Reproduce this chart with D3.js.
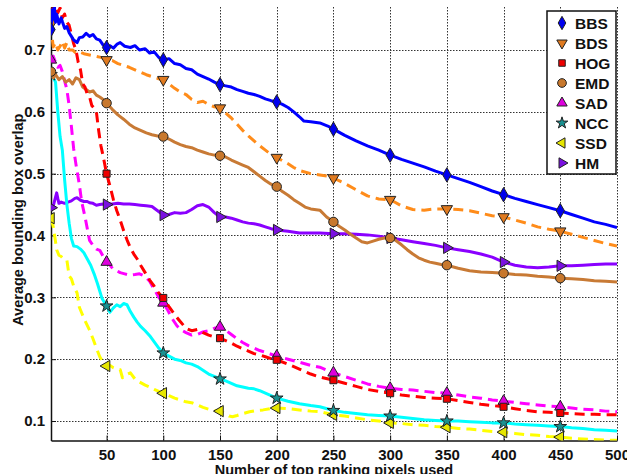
<!DOCTYPE html>
<html>
<head>
<meta charset="utf-8">
<script src="https://cdn.jsdelivr.net/npm/d3@7"></script>
<style>
  html, body { margin: 0; padding: 0; background: #fff; }
  svg { display: block; font-family: "Liberation Sans", Arial, Helvetica, sans-serif; font-weight: bold; }
</style>
</head>
<body>
<div id="chart"></div>
<script>
// --- data ---
const xTicks = [50, 100, 150, 200, 250, 300, 350, 400, 450, 500];
const yTicks = [0.1, 0.2, 0.3, 0.4, 0.5, 0.6, 0.7];
const markerX = [1, 50, 100, 150, 200, 250, 300, 350, 400, 450];

const bbs = [[1,0.733],[2,0.765],[3,0.75],[4,0.77],[5,0.745],[6,0.758],[8,0.742],[10,0.752],[11,0.746],[13,0.735],[15,0.738],[17,0.728],[19,0.722],[21,0.716],[24,0.712],[26,0.72],[29,0.721],[32,0.727],[35,0.722],[38,0.725],[41,0.718],[44,0.716],[47,0.708],[50,0.704],[53,0.707],[56,0.703],[59,0.709],[62,0.712],[66,0.706],[71,0.704],[75,0.707],[79,0.70],[84,0.702],[88,0.695],[92,0.697],[96,0.688],[100,0.684],[105,0.686],[110,0.678],[115,0.676],[120,0.67],[125,0.668],[130,0.661],[135,0.657],[140,0.653],[145,0.648],[150,0.644],[155,0.642],[160,0.64],[165,0.636],[170,0.633],[175,0.63],[180,0.628],[185,0.625],[190,0.621],[195,0.618],[200,0.616],[205,0.612],[210,0.607],[215,0.60],[220,0.592],[224,0.585],[230,0.584],[238,0.582],[245,0.577],[250,0.572],[260,0.562],[270,0.553],[280,0.545],[290,0.538],[300,0.53],[310,0.523],[320,0.517],[330,0.511],[340,0.504],[350,0.498],[360,0.492],[370,0.486],[380,0.479],[390,0.472],[400,0.466],[410,0.46],[420,0.455],[430,0.45],[440,0.445],[450,0.44],[460,0.434],[470,0.428],[480,0.422],[490,0.418],[500,0.413]];

const bds = [[1,0.742],[2,0.72],[3,0.705],[5,0.712],[7,0.70],[9,0.706],[11,0.714],[13,0.703],[15,0.712],[17,0.70],[20,0.70],[23,0.695],[26,0.697],[30,0.694],[35,0.692],[40,0.69],[45,0.688],[50,0.684],[55,0.683],[60,0.678],[65,0.675],[70,0.672],[75,0.668],[80,0.664],[85,0.66],[90,0.657],[95,0.654],[100,0.652],[105,0.645],[110,0.638],[115,0.632],[120,0.628],[125,0.62],[130,0.615],[135,0.617],[140,0.612],[145,0.608],[150,0.606],[155,0.598],[160,0.59],[165,0.58],[170,0.57],[175,0.561],[180,0.553],[185,0.545],[190,0.538],[195,0.531],[200,0.526],[205,0.521],[210,0.516],[215,0.51],[220,0.505],[230,0.5],[238,0.498],[245,0.496],[250,0.493],[260,0.484],[270,0.474],[280,0.464],[290,0.459],[300,0.458],[310,0.448],[320,0.442],[330,0.441],[340,0.443],[350,0.443],[360,0.442],[370,0.44],[380,0.436],[390,0.432],[400,0.43],[410,0.425],[420,0.42],[430,0.414],[440,0.41],[450,0.407],[460,0.402],[470,0.397],[480,0.392],[490,0.387],[500,0.383]];

const hog = [[1,0.775],[3,0.765],[5,0.772],[7,0.76],[9,0.768],[11,0.752],[13,0.758],[15,0.745],[17,0.74],[19,0.725],[21,0.71],[23,0.70],[25,0.68],[27,0.668],[29,0.645],[31,0.64],[33,0.628],[35,0.624],[37,0.61],[39,0.606],[41,0.6],[43,0.57],[45,0.545],[47,0.528],[50,0.50],[53,0.48],[56,0.458],[59,0.44],[62,0.425],[65,0.408],[68,0.393],[71,0.38],[74,0.37],[77,0.362],[80,0.352],[84,0.34],[88,0.328],[92,0.318],[96,0.307],[100,0.299],[105,0.285],[110,0.272],[114,0.263],[120,0.25],[125,0.246],[130,0.248],[135,0.243],[140,0.239],[145,0.236],[150,0.234],[155,0.23],[160,0.226],[165,0.221],[170,0.217],[175,0.213],[180,0.209],[185,0.207],[190,0.204],[195,0.201],[200,0.199],[210,0.192],[220,0.184],[230,0.176],[238,0.171],[250,0.166],[260,0.161],[270,0.156],[280,0.151],[290,0.148],[300,0.145],[310,0.142],[320,0.14],[330,0.138],[340,0.137],[350,0.136],[360,0.133],[370,0.13],[380,0.127],[390,0.125],[400,0.123],[410,0.12],[420,0.117],[430,0.115],[440,0.114],[450,0.113],[460,0.112],[470,0.111],[480,0.111],[490,0.11],[500,0.11]];

const emd = [[1,0.665],[3,0.655],[5,0.66],[8,0.652],[11,0.657],[14,0.648],[17,0.652],[20,0.645],[23,0.655],[26,0.652],[29,0.64],[32,0.636],[35,0.632],[38,0.634],[41,0.627],[44,0.624],[47,0.62],[50,0.614],[55,0.604],[60,0.595],[65,0.588],[70,0.58],[75,0.574],[80,0.57],[85,0.566],[90,0.563],[95,0.561],[100,0.56],[105,0.556],[110,0.551],[115,0.547],[120,0.544],[125,0.542],[130,0.538],[135,0.535],[140,0.532],[145,0.53],[150,0.529],[155,0.527],[160,0.522],[165,0.518],[170,0.514],[175,0.51],[180,0.503],[185,0.496],[190,0.489],[195,0.483],[200,0.479],[205,0.471],[210,0.465],[215,0.458],[220,0.452],[225,0.446],[230,0.443],[238,0.441],[244,0.43],[250,0.422],[255,0.415],[260,0.409],[265,0.402],[270,0.396],[275,0.39],[280,0.388],[285,0.391],[290,0.394],[295,0.396],[300,0.396],[305,0.392],[310,0.385],[315,0.377],[320,0.37],[325,0.364],[330,0.36],[335,0.357],[340,0.355],[345,0.353],[350,0.352],[360,0.347],[370,0.343],[380,0.341],[390,0.34],[400,0.339],[410,0.337],[420,0.336],[430,0.334],[440,0.333],[450,0.331],[460,0.33],[470,0.329],[480,0.327],[490,0.326],[500,0.325]];

const sad = [[1,0.684],[3,0.69],[5,0.68],[7,0.672],[9,0.675],[11,0.665],[13,0.65],[15,0.636],[17,0.61],[19,0.576],[21,0.54],[23,0.515],[26,0.482],[28,0.455],[31,0.43],[35,0.392],[38,0.384],[41,0.378],[44,0.376],[47,0.366],[50,0.357],[53,0.352],[56,0.345],[59,0.343],[62,0.34],[66,0.338],[70,0.336],[75,0.337],[79,0.338],[84,0.334],[88,0.326],[92,0.313],[96,0.3],[100,0.291],[104,0.279],[108,0.265],[112,0.254],[116,0.247],[120,0.243],[125,0.239],[130,0.24],[135,0.244],[140,0.246],[145,0.25],[150,0.252],[155,0.247],[160,0.24],[165,0.233],[170,0.227],[175,0.222],[180,0.218],[185,0.214],[190,0.211],[195,0.208],[200,0.205],[210,0.2],[220,0.195],[230,0.19],[238,0.187],[250,0.178],[260,0.172],[270,0.166],[280,0.16],[290,0.156],[300,0.153],[310,0.151],[320,0.15],[330,0.148],[340,0.146],[350,0.145],[360,0.142],[370,0.139],[380,0.137],[390,0.134],[400,0.132],[410,0.13],[420,0.128],[430,0.126],[440,0.124],[450,0.123],[460,0.121],[470,0.119],[480,0.118],[490,0.116],[500,0.115]];

const ncc = [[1,0.66],[3,0.655],[5,0.648],[7,0.6],[9,0.56],[11,0.538],[13,0.49],[15,0.45],[17,0.42],[19,0.395],[21,0.383],[24,0.382],[27,0.378],[30,0.372],[33,0.362],[36,0.352],[39,0.338],[42,0.322],[46,0.298],[50,0.286],[53,0.276],[56,0.283],[59,0.288],[62,0.285],[65,0.29],[68,0.288],[71,0.277],[74,0.268],[77,0.26],[80,0.253],[84,0.246],[88,0.238],[92,0.228],[96,0.218],[100,0.21],[105,0.205],[110,0.2],[115,0.198],[120,0.194],[125,0.192],[130,0.188],[135,0.182],[140,0.176],[145,0.172],[150,0.168],[155,0.165],[160,0.161],[165,0.157],[170,0.155],[175,0.153],[180,0.152],[185,0.149],[190,0.145],[195,0.141],[200,0.137],[210,0.132],[220,0.128],[230,0.125],[238,0.123],[250,0.117],[260,0.114],[270,0.112],[280,0.11],[290,0.109],[300,0.108],[310,0.106],[320,0.104],[330,0.102],[340,0.101],[350,0.1],[360,0.1],[370,0.099],[380,0.098],[390,0.097],[400,0.097],[410,0.095],[420,0.094],[430,0.093],[440,0.092],[450,0.091],[460,0.089],[470,0.088],[480,0.086],[490,0.085],[500,0.084]];

const ssd = [[1,0.428],[3,0.414],[5,0.39],[6,0.377],[8,0.368],[10,0.366],[12,0.362],[15,0.36],[17,0.335],[19,0.33],[21,0.318],[24,0.307],[26,0.284],[28,0.275],[31,0.262],[35,0.247],[38,0.233],[41,0.218],[44,0.204],[47,0.195],[50,0.189],[53,0.19],[56,0.186],[59,0.184],[62,0.183],[64,0.17],[67,0.175],[71,0.178],[75,0.168],[79,0.163],[84,0.158],[88,0.155],[92,0.151],[96,0.148],[100,0.145],[105,0.141],[110,0.137],[115,0.134],[120,0.131],[126,0.129],[130,0.126],[135,0.122],[140,0.119],[145,0.117],[150,0.116],[155,0.112],[158,0.108],[161,0.107],[165,0.109],[170,0.112],[176,0.115],[182,0.117],[188,0.118],[194,0.12],[200,0.121],[210,0.12],[220,0.118],[230,0.116],[238,0.115],[250,0.11],[260,0.108],[270,0.105],[280,0.102],[290,0.1],[300,0.097],[310,0.096],[320,0.094],[330,0.093],[340,0.091],[350,0.09],[360,0.088],[370,0.087],[380,0.085],[390,0.083],[400,0.082],[410,0.08],[420,0.078],[430,0.077],[440,0.075],[450,0.074],[460,0.072],[470,0.071],[480,0.07],[490,0.069],[500,0.069]];

const hm = [[1,0.445],[3,0.448],[5,0.462],[6,0.469],[7,0.46],[8,0.452],[10,0.454],[13,0.452],[16,0.454],[19,0.456],[22,0.46],[24,0.461],[27,0.457],[30,0.455],[33,0.455],[35,0.453],[38,0.452],[41,0.449],[44,0.45],[47,0.451],[50,0.45],[55,0.451],[60,0.452],[65,0.451],[70,0.451],[75,0.45],[80,0.449],[85,0.448],[90,0.447],[95,0.44],[100,0.433],[105,0.434],[110,0.437],[115,0.436],[120,0.437],[125,0.442],[130,0.448],[135,0.45],[140,0.446],[145,0.437],[150,0.43],[155,0.43],[160,0.428],[165,0.425],[170,0.422],[175,0.42],[180,0.419],[185,0.417],[190,0.414],[195,0.411],[200,0.409],[210,0.407],[220,0.404],[230,0.404],[238,0.404],[250,0.403],[260,0.403],[270,0.402],[280,0.401],[290,0.399],[300,0.396],[310,0.393],[320,0.39],[330,0.387],[340,0.384],[350,0.38],[360,0.377],[370,0.374],[380,0.37],[390,0.365],[400,0.357],[410,0.352],[420,0.349],[430,0.348],[440,0.349],[450,0.351],[460,0.351],[470,0.352],[480,0.353],[490,0.354],[500,0.354]];

const series = [
  { name: "BBS", data: bbs, line: "#0000ff", fill: "#0000ee", dash: null, symbol: d3.symbolDiamond, size: 60, rot: 0 },
  { name: "BDS", data: bds, line: "#ff8c1a", fill: "#e07a1f", dash: "10,6", symbol: d3.symbolTriangle, size: 55, rot: 180 },
  { name: "HOG", data: hog, line: "#ff0000", fill: "#ee0000", dash: "10,6", symbol: d3.symbolSquare, size: 50, rot: 0 },
  { name: "EMD", data: emd, line: "#c87a35", fill: "#c8782d", dash: null, symbol: d3.symbolCircle, size: 70, rot: 0 },
  { name: "SAD", data: sad, line: "#ff00ff", fill: "#dd00dd", dash: "10,6", symbol: d3.symbolTriangle, size: 55, rot: 0 },
  { name: "NCC", data: ncc, line: "#00ffff", fill: "#1a9090", dash: null, symbol: d3.symbolStar, size: 50, rot: 0 },
  { name: "SSD", data: ssd, line: "#ffff00", fill: "#e6e600", dash: "10,6", symbol: d3.symbolTriangle, size: 55, rot: -90 },
  { name: "HM", data: hm, line: "#8a00ff", fill: "#7a10e0", dash: null, symbol: d3.symbolTriangle, size: 55, rot: 90 },
];

const W = 627, H = 474;
const plot = { left: 51, right: 617, top: 7, bottom: 440.5 };

const svg = d3.select("#chart").append("svg").attr("width", W).attr("height", H);

const x = d3.scaleLinear().domain([1, 500]).range([plot.left, plot.right]);
const y = d3.scaleLinear().domain([0.0685, 0.7695]).range([plot.bottom, plot.top]);

// grid (dotted, MATLAB style)
const grid = svg.append("g").attr("stroke", "#333").attr("stroke-width", 1).attr("stroke-dasharray", "1.5,1.5");
grid.selectAll("line.v").data(xTicks).join("line")
  .attr("x1", d => Math.round(x(d)) + 0.5).attr("x2", d => Math.round(x(d)) + 0.5)
  .attr("y1", plot.top).attr("y2", plot.bottom);
grid.selectAll("line.h").data(yTicks).join("line")
  .attr("y1", d => Math.round(y(d)) + 0.5).attr("y2", d => Math.round(y(d)) + 0.5)
  .attr("x1", plot.left).attr("x2", plot.right);

// axes
const xAxis = svg.append("g").attr("transform", `translate(0,${plot.bottom})`)
  .call(d3.axisBottom(x).tickValues(xTicks).tickSize(-5).tickPadding(9).tickSizeOuter(0));
const yAxis = svg.append("g").attr("transform", `translate(${plot.left},0)`)
  .call(d3.axisLeft(y).tickValues(yTicks).tickFormat(d3.format(".1f")).tickSize(-5).tickPadding(6).tickSizeOuter(0));
[xAxis, yAxis].forEach(a => {
  a.select(".domain").attr("stroke", "#111").attr("stroke-width", 1.5);
  a.selectAll(".tick line").attr("stroke", "#111");
  a.selectAll("text").attr("font-size", 15).attr("font-weight", "bold").attr("fill", "#111")
    .attr("font-family", "Liberation Sans, Arial, sans-serif");
});

// clip
svg.append("clipPath").attr("id", "clip").append("rect")
  .attr("x", plot.left).attr("y", plot.top)
  .attr("width", plot.right - plot.left).attr("height", plot.bottom - plot.top);

const line = d3.line().x(d => x(d[0])).y(d => y(d[1]));
const lines = svg.append("g").attr("clip-path", "url(#clip)");

// later series sit underneath, like the reference
const drawOrder = series.slice().reverse();
drawOrder.forEach(s => {
  const g = lines.append("g");
  g.append("path").datum(s.data)
    .attr("d", line)
    .attr("fill", "none").attr("stroke", s.line).attr("stroke-width", 3)
    .attr("stroke-linejoin", "round")
    .attr("stroke-dasharray", s.dash);
  const pts = s.data.filter(d => markerX.includes(d[0]));
  g.selectAll("path.mk").data(pts).join("path")
    .attr("class", "mk")
    .attr("d", d3.symbol().type(s.symbol).size(s.size))
    .attr("transform", d => `translate(${x(d[0])},${y(d[1])}) rotate(${s.rot})`)
    .attr("fill", s.fill).attr("stroke", "#222").attr("stroke-width", 1);
});

// axis labels
svg.append("text")
  .attr("x", (plot.left + plot.right) / 2).attr("y", 475)
  .attr("text-anchor", "middle").attr("font-size", 14.5).attr("fill", "#111")
  .text("Number of top ranking pixels used");
svg.append("text")
  .attr("transform", `translate(23,${(plot.top + plot.bottom) / 2 - 4}) rotate(-90)`)
  .attr("text-anchor", "middle").attr("font-size", 14.5).attr("fill", "#111")
  .text("Average bounding box overlap");

// legend
const lg = svg.append("g").attr("transform", "translate(547,11)");
lg.append("rect").attr("width", 69).attr("height", 163)
  .attr("fill", "#fff").attr("stroke", "#111").attr("stroke-width", 1.5);
series.forEach((s, i) => {
  const ly = 12 + i * 20;
  lg.append("path")
    .attr("d", d3.symbol().type(s.symbol).size(s.size * 0.85))
    .attr("transform", `translate(15,${ly}) rotate(${s.rot})`)
    .attr("fill", s.fill).attr("stroke", "#222").attr("stroke-width", 1);
  lg.append("text").attr("x", 28).attr("y", ly + 5.5)
    .attr("font-size", 15.5).attr("fill", "#111").text(s.name);
});
</script>
</body>
</html>
